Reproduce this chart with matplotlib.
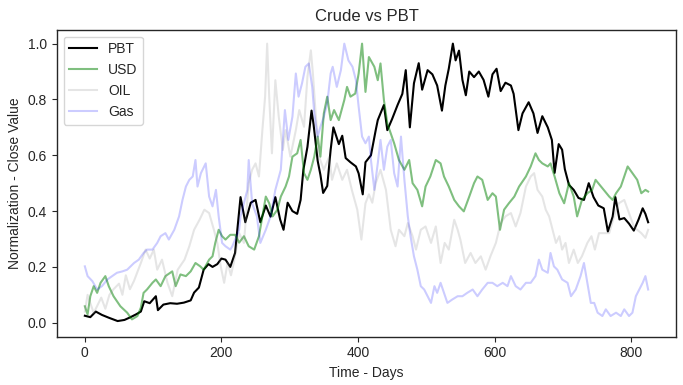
import matplotlib.pyplot as plt
import numpy as np

# (day, normalized close)
PBT = [
    (0, 0.025), (8, 0.02), (16, 0.04), (25, 0.028), (35, 0.018), (48, 0.006),
    (58, 0.01), (67, 0.02), (75, 0.03), (82, 0.04), (87, 0.077), (95, 0.07),
    (104, 0.095), (107, 0.045), (115, 0.065), (125, 0.07), (135, 0.068),
    (145, 0.072), (155, 0.08), (160, 0.108), (167, 0.126), (174, 0.19),
    (181, 0.21), (187, 0.2), (194, 0.21), (200, 0.23), (206, 0.226),
    (213, 0.20), (220, 0.25), (228, 0.45), (235, 0.36), (243, 0.43),
    (250, 0.44), (257, 0.36), (265, 0.42), (272, 0.38), (279, 0.45),
    (286, 0.37), (291, 0.333), (297, 0.43), (304, 0.40), (311, 0.39),
    (316, 0.44), (320, 0.547), (326, 0.63), (332, 0.76), (335, 0.71),
    (341, 0.58), (345, 0.53), (349, 0.465), (355, 0.49), (360, 0.62),
    (364, 0.70), (372, 0.64), (377, 0.67), (382, 0.59), (389, 0.575),
    (397, 0.56), (401, 0.535), (407, 0.46), (411, 0.575), (419, 0.60),
    (426, 0.69), (429, 0.726), (438, 0.78), (443, 0.69), (450, 0.73),
    (458, 0.78), (465, 0.82), (470, 0.905), (476, 0.70), (482, 0.858),
    (489, 0.93), (494, 0.835), (502, 0.905), (509, 0.89), (516, 0.85),
    (523, 0.76), (528, 0.85), (533, 0.91), (539, 1.0), (543, 0.94),
    (548, 0.975), (553, 0.87), (558, 0.815), (563, 0.90), (570, 0.88),
    (577, 0.90), (584, 0.87), (591, 0.81), (597, 0.89), (603, 0.91),
    (609, 0.83), (616, 0.86), (624, 0.85), (628, 0.82), (635, 0.69),
    (641, 0.75), (650, 0.79), (657, 0.75), (663, 0.68), (670, 0.74),
    (678, 0.70), (684, 0.655), (688, 0.537), (694, 0.64), (699, 0.62),
    (703, 0.55), (709, 0.494), (716, 0.476), (723, 0.447), (731, 0.44),
    (738, 0.50), (745, 0.45), (752, 0.42), (760, 0.41), (766, 0.327),
    (773, 0.38), (777, 0.45), (783, 0.37), (790, 0.375), (797, 0.355),
    (804, 0.33), (811, 0.37), (817, 0.41), (821, 0.39), (825, 0.36),
]

USD = [
    (0, 0.059), (4, 0.03), (8, 0.095), (13, 0.131), (18, 0.107), (23, 0.143),
    (30, 0.167), (35, 0.131), (42, 0.095), (52, 0.059), (62, 0.036),
    (69, 0.012), (77, 0.024), (82, 0.054), (86, 0.107), (91, 0.119),
    (99, 0.143), (104, 0.155), (111, 0.131), (118, 0.167), (128, 0.184),
    (133, 0.131), (140, 0.173), (148, 0.167), (155, 0.184), (162, 0.214),
    (169, 0.202), (174, 0.19), (182, 0.226), (187, 0.238), (191, 0.286),
    (196, 0.333), (201, 0.31), (206, 0.298), (213, 0.315), (220, 0.315),
    (226, 0.287), (233, 0.31), (240, 0.274), (248, 0.262), (255, 0.31),
    (260, 0.381), (265, 0.452), (270, 0.428), (275, 0.381), (282, 0.405),
    (287, 0.452), (294, 0.488), (299, 0.524), (304, 0.595), (311, 0.607),
    (316, 0.655), (321, 0.536), (326, 0.512), (331, 0.548), (336, 0.595),
    (341, 0.667), (345, 0.595), (350, 0.75), (355, 0.81), (360, 0.726),
    (365, 0.762), (372, 0.726), (380, 0.798), (384, 0.845), (389, 0.81),
    (396, 0.821), (401, 0.893), (406, 1.0), (411, 0.827), (416, 0.952),
    (424, 0.917), (429, 0.869), (433, 0.929), (438, 0.798), (443, 0.714),
    (448, 0.679), (453, 0.643), (460, 0.583), (468, 0.548), (475, 0.583),
    (480, 0.5), (487, 0.476), (494, 0.417), (499, 0.488), (506, 0.524),
    (514, 0.583), (521, 0.571), (526, 0.524), (533, 0.488), (541, 0.44),
    (548, 0.417), (555, 0.399), (563, 0.452), (570, 0.5), (575, 0.524),
    (582, 0.512), (590, 0.44), (597, 0.464), (602, 0.452), (608, 0.333),
    (614, 0.405), (621, 0.428), (629, 0.452), (636, 0.488), (646, 0.524),
    (653, 0.56), (660, 0.607), (665, 0.583), (670, 0.571), (678, 0.56),
    (682, 0.571), (688, 0.524), (695, 0.464), (702, 0.428), (709, 0.5),
    (716, 0.452), (721, 0.381), (728, 0.44), (736, 0.464), (743, 0.476),
    (748, 0.512), (756, 0.488), (760, 0.476), (768, 0.452), (773, 0.44),
    (778, 0.464), (785, 0.488), (790, 0.524), (795, 0.56), (802, 0.536),
    (809, 0.512), (815, 0.464), (821, 0.476), (825, 0.47),
]

OIL = [
    (0, 0.04), (4, 0.1), (8, 0.07), (13, 0.035), (18, 0.06), (24, 0.09),
    (30, 0.05), (36, 0.1), (42, 0.12), (50, 0.14), (55, 0.1), (60, 0.17),
    (66, 0.12), (72, 0.15), (82, 0.214), (89, 0.262), (95, 0.23),
    (101, 0.262), (106, 0.19), (113, 0.226), (121, 0.143), (128, 0.095),
    (136, 0.19), (146, 0.226), (153, 0.274), (160, 0.333), (168, 0.369),
    (175, 0.405), (182, 0.393), (189, 0.333), (194, 0.286), (199, 0.202),
    (204, 0.143), (209, 0.214), (214, 0.17), (218, 0.214), (226, 0.321),
    (233, 0.286), (240, 0.5), (245, 0.548), (250, 0.571), (255, 0.524),
    (260, 0.69), (264, 0.81), (267, 1.0), (270, 0.81), (274, 0.607),
    (279, 0.869), (284, 0.738), (290, 0.619), (294, 0.69), (301, 0.595),
    (309, 0.69), (314, 0.762), (321, 0.702), (326, 0.881), (331, 0.976),
    (334, 0.893), (338, 0.75), (343, 0.595), (350, 0.548), (358, 0.595),
    (362, 0.512), (369, 0.571), (377, 0.512), (384, 0.548), (391, 0.476),
    (399, 0.405), (405, 0.298), (411, 0.428), (416, 0.46), (421, 0.43),
    (426, 0.5), (433, 0.548), (441, 0.476), (448, 0.333), (455, 0.274),
    (460, 0.333), (468, 0.31), (473, 0.357), (480, 0.31), (485, 0.262),
    (492, 0.333), (499, 0.345), (507, 0.286), (514, 0.345), (521, 0.214),
    (527, 0.286), (533, 0.262), (541, 0.369), (546, 0.333), (550, 0.298),
    (557, 0.214), (565, 0.25), (572, 0.214), (580, 0.238), (587, 0.19),
    (594, 0.238), (602, 0.286), (609, 0.357), (616, 0.381), (624, 0.393),
    (631, 0.345), (638, 0.393), (646, 0.488), (653, 0.524), (658, 0.536),
    (663, 0.476), (670, 0.452), (675, 0.405), (680, 0.381), (685, 0.333),
    (690, 0.286), (695, 0.31), (699, 0.262), (704, 0.286), (709, 0.214),
    (716, 0.262), (722, 0.214), (728, 0.238), (736, 0.286), (742, 0.31),
    (747, 0.262), (753, 0.321), (760, 0.321), (768, 0.321), (775, 0.381),
    (782, 0.428), (790, 0.44), (797, 0.393), (804, 0.345), (809, 0.333),
    (815, 0.321), (821, 0.304), (825, 0.333),
]

GAS = [
    (0, 0.202), (4, 0.167), (11, 0.149), (18, 0.119), (25, 0.131), (33, 0.155),
    (40, 0.167), (47, 0.179), (55, 0.184), (62, 0.19), (72, 0.214),
    (79, 0.226), (86, 0.25), (91, 0.262), (99, 0.262), (106, 0.286),
    (111, 0.31), (118, 0.321), (123, 0.298), (131, 0.333), (138, 0.381),
    (143, 0.44), (148, 0.488), (153, 0.512), (158, 0.524), (162, 0.583),
    (165, 0.488), (170, 0.536), (177, 0.571), (182, 0.452), (187, 0.417),
    (192, 0.476), (196, 0.381), (201, 0.286), (206, 0.274), (213, 0.262),
    (216, 0.274), (226, 0.333), (228, 0.381), (233, 0.428), (238, 0.476),
    (240, 0.583), (245, 0.428), (252, 0.381), (257, 0.286), (265, 0.333),
    (272, 0.381), (279, 0.476), (287, 0.548), (293, 0.762), (298, 0.655),
    (304, 0.738), (309, 0.893), (313, 0.81), (318, 0.857), (323, 0.917),
    (328, 0.929), (333, 0.845), (336, 0.75), (341, 0.667), (345, 0.702),
    (350, 0.738), (355, 0.786), (360, 0.893), (363, 0.917), (369, 0.845),
    (375, 0.905), (380, 1.0), (386, 0.94), (392, 0.917), (397, 0.869),
    (401, 0.774), (406, 0.667), (411, 0.643), (416, 0.667), (419, 0.583),
    (424, 0.476), (429, 0.571), (433, 0.655), (438, 0.548), (443, 0.631),
    (448, 0.655), (453, 0.536), (458, 0.488), (463, 0.667), (468, 0.512),
    (473, 0.381), (477, 0.31), (482, 0.238), (487, 0.19), (492, 0.131),
    (497, 0.119), (502, 0.095), (507, 0.071), (512, 0.131), (516, 0.107),
    (521, 0.143), (526, 0.107), (531, 0.071), (538, 0.083), (546, 0.095),
    (553, 0.095), (560, 0.107), (568, 0.119), (575, 0.095), (582, 0.119),
    (590, 0.143), (597, 0.143), (604, 0.131), (612, 0.143), (619, 0.131),
    (624, 0.167), (631, 0.131), (638, 0.119), (646, 0.143), (653, 0.143),
    (660, 0.167), (665, 0.226), (670, 0.19), (678, 0.179), (682, 0.25),
    (687, 0.202), (692, 0.19), (699, 0.155), (707, 0.143), (712, 0.095),
    (719, 0.119), (726, 0.167), (731, 0.214), (736, 0.143), (741, 0.071),
    (746, 0.071), (751, 0.036), (758, 0.024), (763, 0.048), (770, 0.024),
    (778, 0.036), (785, 0.024), (790, 0.048), (797, 0.024), (802, 0.036),
    (807, 0.095), (812, 0.119), (817, 0.143), (821, 0.167), (825, 0.119),
]

SERIES = [
    ("PBT", PBT, "black", 1.0),
    ("USD", USD, "green", 0.5),
    ("OIL", OIL, "gray", 0.2),
    ("Gas", GAS, "blue", 0.2),
]

plt.rcParams.update({
    "font.family": ["Liberation Sans", "DejaVu Sans"],
    "axes.edgecolor": ".15",
    "axes.labelcolor": ".15",
    "text.color": ".15",
    "xtick.color": ".15",
    "ytick.color": ".15",
    "axes.linewidth": 1.0,
})

fig = plt.figure(figsize=(6.83, 3.85), dpi=100)
ax = fig.add_axes([0.083, 0.1255, 0.9072, 0.7974])

for label, points, color, alpha in SERIES:
    arr = np.array(points)
    ax.plot(arr[:, 0], arr[:, 1], color=color, alpha=alpha, linewidth=1.5, label=label)

ax.set_title("Crude vs PBT")
ax.set_xlabel("Time - Days")
ax.set_ylabel("Normalization - Close Value")
ax.set_ylim(-0.05, 1.05)
ax.legend(loc="upper left")

fig.savefig("out.png", dpi=100)
